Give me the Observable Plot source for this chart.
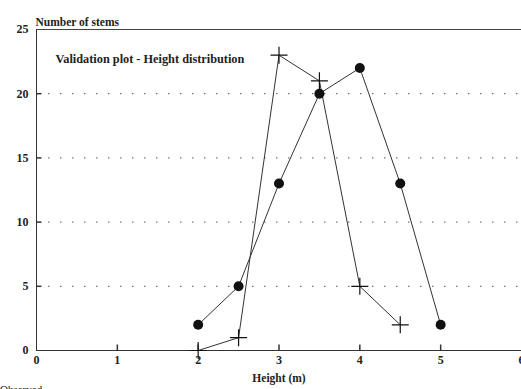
<!DOCTYPE html>
<html>
<head>
<meta charset="utf-8">
<script src="https://cdn.jsdelivr.net/npm/d3@7"></script>
<script src="https://cdn.jsdelivr.net/npm/@observablehq/plot@0.6"></script>
<style>
  html, body { margin: 0; padding: 0; background: #fff; overflow: hidden; }
  #legend { position: absolute; left: 0; top: 384px; font-family: "Liberation Serif", "DejaVu Serif", serif; font-size: 11px; line-height: 11px; color: #222; margin: 0; }
  #chart svg, #chart svg text { font-family: "Liberation Serif", "DejaVu Serif", serif !important; }
</style>
</head>
<body>
<div id="chart"></div>
<div id="legend">Observed</div>
<script>
// Data
const circleHeights = [2, 2.5, 3, 3.5, 4, 4.5, 5];
const circleStems   = [2, 5, 13, 20, 22, 13, 2];
const crossHeights  = [2, 2.5, 3, 3.5, 4, 4.5];
const crossStems    = [0, 1, 23, 21, 5, 2];
const xTicks = [0, 1, 2, 3, 4, 5, 6];
const yTicks = [0, 5, 10, 15, 20, 25];
const gridValues = [5, 10, 15, 20];
const titleText = "Validation plot - Height distribution";
const yLabel = "Number of stems";
const xLabel = "Height (m)";

const circles = circleHeights.map((h, i) => ({height: h, stems: circleStems[i]}));
const crosses = crossHeights.map((h, i) => ({height: h, stems: crossStems[i]}));

const crossSym = {draw(ctx) { const r = 8.5; ctx.moveTo(-r, 0); ctx.lineTo(r, 0); ctx.moveTo(0, -r); ctx.lineTo(0, r); }};
const yTickSym = {draw(ctx) { ctx.moveTo(0, 0); ctx.lineTo(5, 0); }};
const xTickSym = {draw(ctx) { ctx.moveTo(0, 0); ctx.lineTo(0, -6); }};

const serif = '"Liberation Serif", "DejaVu Serif", serif';

const chart = Plot.plot({
  width: 521,
  height: 389,
  marginLeft: 36,
  marginRight: 0,
  marginTop: 29,
  marginBottom: 39,
  style: {fontFamily: serif, fontSize: "12px", background: "#fff", color: "#222"},
  x: {domain: [0, 6]},
  y: {domain: [0, 25]},
  marks: [
    Plot.ruleY(gridValues, {stroke: "#555", strokeDasharray: "1.5,10.5", strokeWidth: 1}),
    Plot.ruleY([25], {stroke: "#444", strokeWidth: 1}),
    Plot.ruleY([0], {stroke: "#333", strokeWidth: 1}),
    Plot.ruleX([0], {stroke: "#333", strokeWidth: 1}),
    Plot.dot(yTicks.filter(v => v > 0 && v < 25), {x: () => 0, y: d => d, symbol: yTickSym, r: 5, fill: "none", stroke: "#333"}),
    Plot.dot(xTicks.filter(v => v > 0 && v < 6), {x: d => d, y: () => 0, symbol: xTickSym, r: 5, fill: "none", stroke: "#333"}),
    Plot.axisX({ticks: xTicks, tickFormat: d3.format("d"), tickSize: 0, tickPadding: 5, label: null, fontWeight: "bold"}),
    Plot.axisY({ticks: yTicks, tickFormat: d3.format("d"), tickSize: 0, tickPadding: 8, label: null, fontWeight: "bold"}),
    Plot.line(circles, {x: "height", y: "stems", stroke: "#333", strokeWidth: 1}),
    Plot.line(crosses, {x: "height", y: "stems", stroke: "#333", strokeWidth: 1}),
    Plot.dot(circles, {x: "height", y: "stems", r: 5, fill: "#111", stroke: "none"}),
    Plot.dot(crosses, {x: "height", y: "stems", symbol: crossSym, r: 5, fill: "none", stroke: "#111", strokeWidth: 1.2}),
    Plot.text([yLabel], {frameAnchor: "top-left", dx: -1, dy: -12, textAnchor: "start", fontWeight: "bold", fontSize: 11.5}),
    Plot.text([titleText], {frameAnchor: "top-left", dx: 19, dy: 25, textAnchor: "start", fontWeight: "bold", fontSize: 12.3}),
    Plot.text([xLabel], {frameAnchor: "bottom", dy: 31, fontWeight: "bold", fontSize: 11.5})
  ]
});
document.getElementById("chart").appendChild(chart);
</script>
</body>
</html>
